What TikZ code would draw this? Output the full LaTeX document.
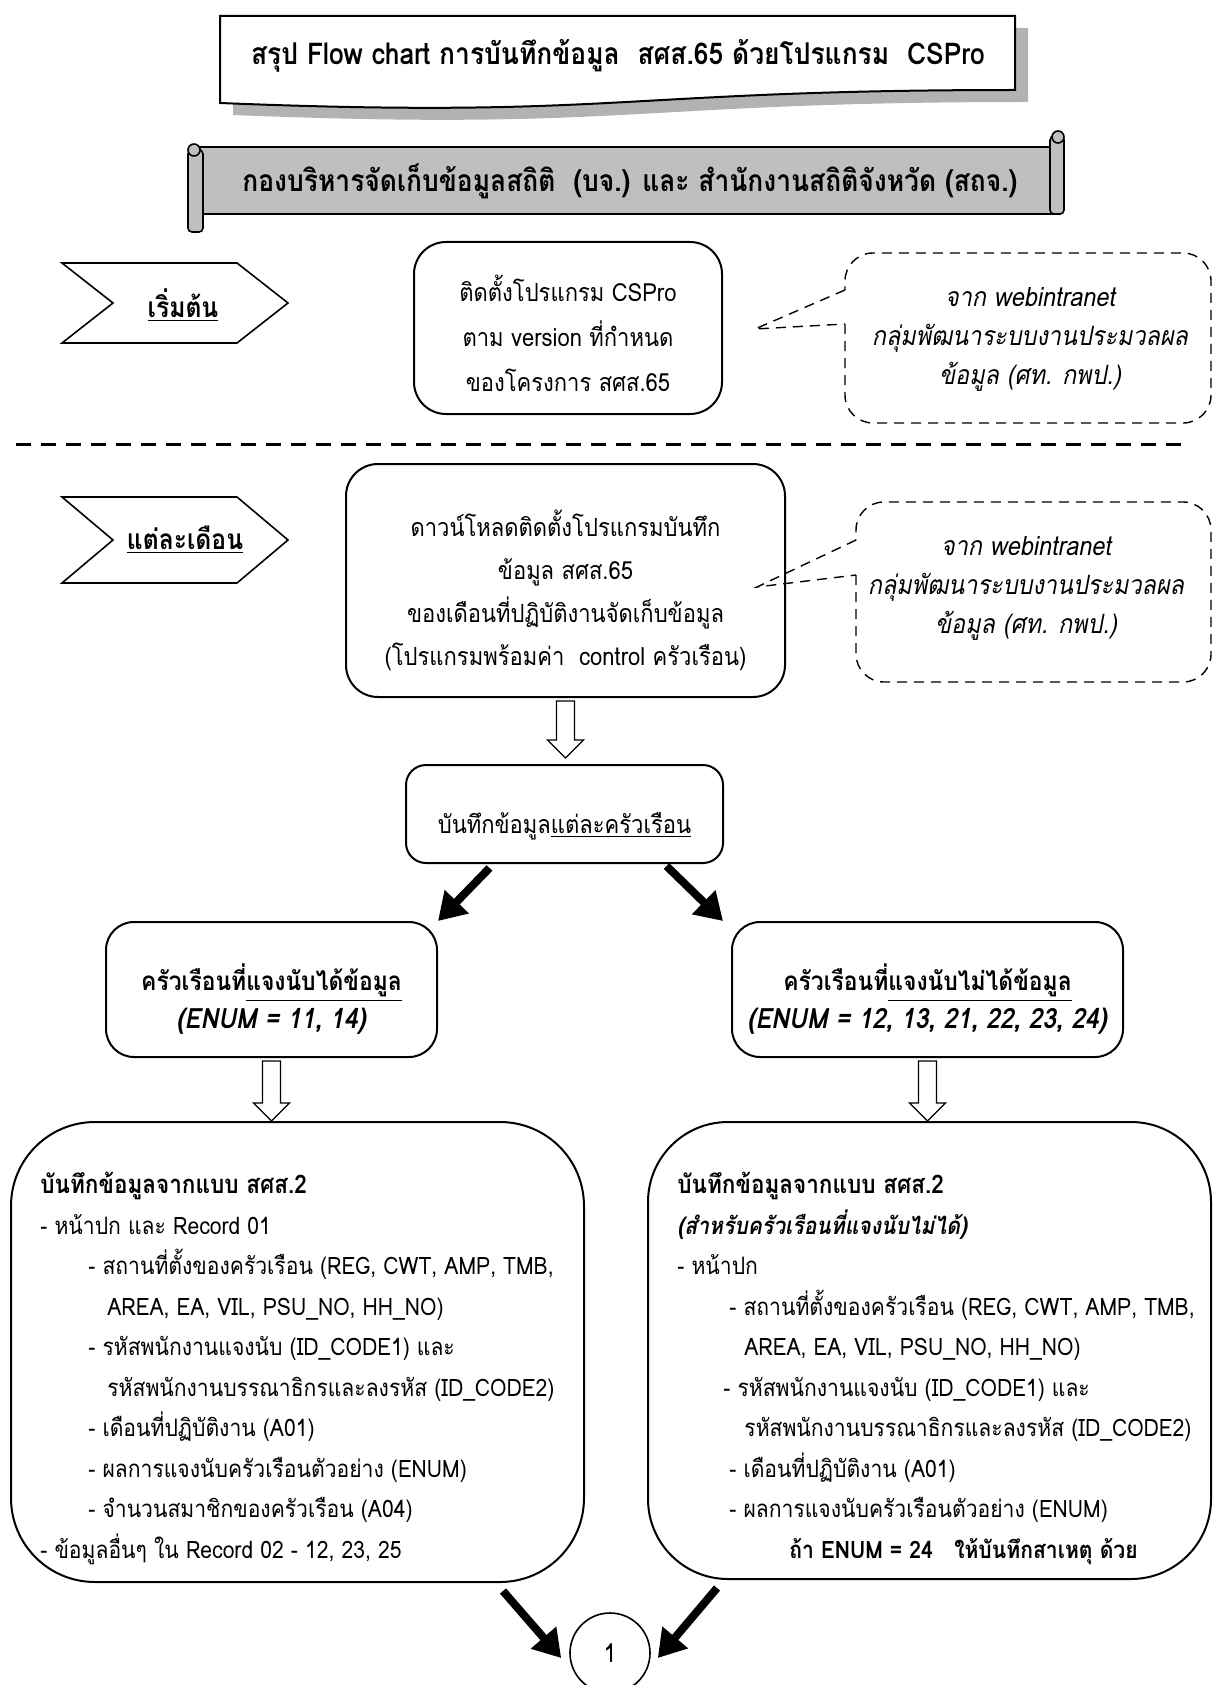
\documentclass[tikz,border=0pt]{standalone}
\usepackage{fontspec}
\setmainfont{Loma}[Script=Thai, FakeStretch=0.88]
\usetikzlibrary{arrows.meta}

\begin{document}
\begin{tikzpicture}[x=0.5pt, y=-0.5pt, font=\fontsize{12}{21}\selectfont,
        box/.style={draw, line width=1pt, inner sep=0pt},
        boxtext/.style={align=center, inner sep=0pt, font=\fontsize{12.5}{21.5}\selectfont},
        hollowarrow/.style={draw, line width=0.6pt, fill=white},
        fatarrow/.style={line width=4pt, -{Triangle[length=13.5pt,width=16pt]}},
        callout/.style={draw, line width=0.7pt, dash pattern=on 5pt off 3.5pt},
        chevron/.style={draw, line width=0.8pt},
        scroll/.style={draw, line width=0.8pt, fill=gray!50},
        webnote/.style={align=center, font=\itshape\fontsize{13.3}{19.5}\selectfont},
        listtext/.style={align=left, inner sep=0pt, anchor=north west, font=\fontsize{12}{20.25}\selectfont}]
        \useasboundingbox (0,0) rectangle (1213,1685);

        % title with shadow
        \fill[gray!60, shift={(13,12)}] (220,16) -- (1015,16) -- (1015,90) .. controls (617,90) and (617,119) .. (220,103) -- cycle;
        \draw[line width=1pt, fill=white] (220,16) -- (1015,16) -- (1015,90) .. controls (617,90) and (617,119) .. (220,103) -- cycle;
        \node[font=\bfseries\fontsize{15}{18}\selectfont] (title) at (618,56) {สรุป Flow chart การบันทึกข้อมูล\ \ สศส.65 ด้วยโปรแกรม\ \ CSPro};

        % scroll banner
        \draw[scroll] (200,147) rectangle (1056,214);
        \draw[scroll, rounded corners=2pt] (188,150) rectangle (203,232);
        \draw[scroll] (194,150) circle[radius=3pt];
        \draw[scroll, rounded corners=2pt] (1050,136) rectangle (1064,214);
        \draw[scroll] (1058,137) circle[radius=3pt];
        \node[font=\bfseries\fontsize{15}{18}\selectfont] (dept) at (630,181) {กองบริหารจัดเก็บข้อมูลสถิติ\ \ (บจ.) และ สำนักงานสถิติจังหวัด (สถจ.)};

        % start
        \draw[chevron] (62,263) -- (113,303) -- (62,343) -- (237,343) -- (288,303) -- (237,263) -- cycle;
        \node[font=\bfseries\fontsize{14}{16}\selectfont] (begin) at (183,305) {\underline{เริ่มต้น}};
        \node[box, rounded corners=16pt, minimum width=154pt, minimum height=86pt] (install) at (568,328) {};
        \node[boxtext, font=\fontsize{12.5}{22.5}\selectfont] (installtext) at ([yshift=-2.7pt]install.center) {ติดตั้งโปรแกรม CSPro\\ตาม version ที่กำหนด\\ของโครงการ สศส.65};
        \draw[callout, rounded corners=14pt] (845,324) -- (845,423) -- (1211,423) -- (1211,253) -- (845,253) -- (845,290);
        \draw[callout] (845,290) -- (755,329) -- (845,324);
        \node[webnote] (web1) at (1030,339) {จาก webintranet\\กลุ่มพัฒนาระบบงานประมวลผล\\ข้อมูล (ศท. กพป.)};

        \draw[line width=1.5pt, dash pattern=on 7.5pt off 5pt] (16,444) -- (1182,444);

        % each month
        \draw[chevron] (62,497) -- (113,540) -- (62,583) -- (237,583) -- (288,540) -- (237,497) -- cycle;
        \node[font=\bfseries\fontsize{14}{16}\selectfont] (monthly) at (185,540) {\underline{แต่ละเดือน}};
        \node[box, rounded corners=16pt, minimum width=219.5pt, minimum height=116.5pt] (download) at (565.5,580.5) {};
        \node[boxtext] (downloadtext) at ([yshift=-4.75pt]download.center) {ดาวน์โหลดติดตั้งโปรแกรมบันทึก\\ข้อมูล สศส.65\\ของเดือนที่ปฏิบัติงานจัดเก็บข้อมูล\\(โปรแกรมพร้อมค่า\ \ control ครัวเรือน)};
        \draw[callout, rounded corners=14pt] (856,575) -- (856,682) -- (1211,682) -- (1211,502) -- (856,502) -- (856,540);
        \draw[callout] (856,540) -- (757,587) -- (856,575);
        \node[webnote] (web2) at (1026,588) {จาก webintranet\\กลุ่มพัฒนาระบบงานประมวลผล\\ข้อมูล (ศท. กพป.)};

        \node[box, rounded corners=10pt, minimum width=158.5pt, minimum height=49pt] (record) at (564.5,814) {};
        \node[boxtext] (recordtext) at ([yshift=-6pt]record.center) {บันทึกข้อมูล\underline{แต่ละครัวเรือน}};
        \draw[hollowarrow] ([shift={(-9,3)}]download.south) -- ++(0,39) -- ++(-9,0) -- ++(18,18) -- ++(18,-18) -- ++(-9,0) -- ++(0,-39) -- cycle;

        % two kinds of households
        \node[box, rounded corners=14pt, minimum width=165.5pt, minimum height=67.5pt] (done) at (271.5,989.5) {};
        \node[boxtext, font=\bfseries\fontsize{13}{19}\selectfont] (donetext) at ([yshift=-5pt]done.center) {ครัวเรือนที่\underline{แจงนับได้ข้อมูล}\\\fontsize{14}{19}\selectfont\textit{(ENUM = 11, 14)}};
        \node[box, rounded corners=14pt, minimum width=195.5pt, minimum height=67.5pt] (notdone) at (927.5,989.5) {};
        \node[boxtext, font=\bfseries\fontsize{13}{19}\selectfont] (notdonetext) at ([yshift=-5pt]notdone.center) {ครัวเรือนที่\underline{แจงนับไม่ได้ข้อมูล}\\\fontsize{14}{19}\selectfont\textit{(ENUM = 12, 13, 21, 22, 23, 24)}};
        \draw[fatarrow] ([shift={(-75,4)}]record.south) -- (done.north east);
        \draw[fatarrow] ([shift={(102,2)}]record.south) -- ([xshift=-4pt]notdone.north west);

        \node[box, rounded corners=42pt, minimum width=286.5pt, minimum height=230pt] (doneform) at (297.5,1352) {};
        \node[box, rounded corners=40pt, minimum width=281.5pt, minimum height=228.5pt] (notdoneform) at (929.5,1350.5) {};
        \draw[hollowarrow] ([shift={(-9,3)}]done.south) -- ++(0,42) -- ++(-9,0) -- ++(18,18) -- ++(18,-18) -- ++(-9,0) -- ++(0,-42) -- cycle;
        \draw[hollowarrow] ([shift={(-9,3)}]notdone.south) -- ++(0,42) -- ++(-9,0) -- ++(18,18) -- ++(18,-18) -- ++(-9,0) -- ++(0,-42) -- cycle;

        \node[listtext] (donelist) at (40,1172) {\textbf{\fontsize{12.8}{20.25}\selectfont บันทึกข้อมูลจากแบบ สศส.2}\\
                - หน้าปก และ Record 01\\
                \hspace*{24pt}- สถานที่ตั้งของครัวเรือน (REG, CWT, AMP, TMB,\\
                \hspace*{33.5pt}AREA, EA, VIL, PSU\_NO, HH\_NO)\\
                \hspace*{24pt}- รหัสพนักงานแจงนับ (ID\_CODE1) และ\\
                \hspace*{33.5pt}รหัสพนักงานบรรณาธิกรและลงรหัส (ID\_CODE2)\\
                \hspace*{24pt}- เดือนที่ปฏิบัติงาน (A01)\\
                \hspace*{24pt}- ผลการแจงนับครัวเรือนตัวอย่าง (ENUM)\\
                \hspace*{24pt}- จำนวนสมาชิกของครัวเรือน (A04)\\
                - ข้อมูลอื่นๆ ใน Record 02 - 12, 23, 25};
        \node[listtext] (notdonelist) at (677,1172) {\textbf{\fontsize{12.8}{20.25}\selectfont บันทึกข้อมูลจากแบบ สศส.2}\\
                \textbf{\textit{(สำหรับครัวเรือนที่แจงนับไม่ได้)}}\\
                - หน้าปก\\
                \hspace*{26pt}- สถานที่ตั้งของครัวเรือน (REG, CWT, AMP, TMB,\\
                \hspace*{33.5pt}AREA, EA, VIL, PSU\_NO, HH\_NO)\\
                \hspace*{23pt}- รหัสพนักงานแจงนับ (ID\_CODE1) และ\\
                \hspace*{33.5pt}รหัสพนักงานบรรณาธิกรและลงรหัส (ID\_CODE2)\\
                \hspace*{26pt}- เดือนที่ปฏิบัติงาน (A01)\\
                \hspace*{26pt}- ผลการแจงนับครัวเรือนตัวอย่าง (ENUM)\\
                \hspace*{56pt}\textbf{ถ้า ENUM = 24\ \ \ ให้บันทึกสาเหตุ ด้วย}};

        % connector 1
        \node[draw, circle, line width=0.8pt, minimum size=40pt, inner sep=0pt, font=\fontsize{13}{15}\selectfont] (one) at (610,1653) {1};
        \draw[fatarrow] ([shift={(-82,8)}]doneform.south east) -- ([shift={(-8,5)}]one.west);
        \draw[fatarrow] ([shift={(70,8)}]notdoneform.south west) -- ([shift={(7,5)}]one.east);
\end{tikzpicture}
\end{document}
